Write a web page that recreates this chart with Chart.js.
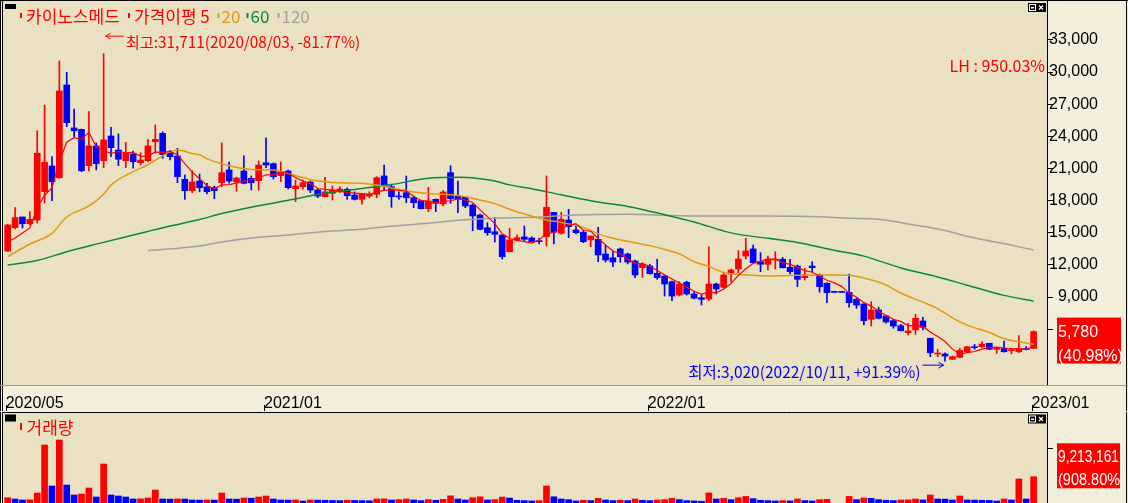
<!DOCTYPE html>
<html><head><meta charset="utf-8">
<script src="https://cdn.jsdelivr.net/npm/chart.js@4.4.1/dist/chart.umd.min.js"></script>
<style>
html,body{margin:0;padding:0;background:#F4EEDD;overflow:hidden;width:1128px;height:503px;}
#wrap{position:relative;width:1128px;height:503px;overflow:hidden;}
#price{position:absolute;left:0;top:0;}
#vol{position:absolute;left:0;top:412px;}
</style></head>
<body><div id="wrap"><canvas id="price" width="1128" height="411"></canvas><canvas id="vol" width="1128" height="94"></canvas></div>
<script>
// ---------- data (weekly candles, first week 2020/05/04) ----------
const tickIdx = [0, 35, 87, 139];
const tickLabels = ['2020/05', '2021/01', '2022/01', '2023/01'];
const priceTicks = [6000, 9000, 12000, 15000, 18000, 21000, 24000, 27000, 30000, 33000];
const volTicks = [18000000];

const open = [
13300,15480,16470,15850,16190,18830,21230,20140,28790,24780,
24650,21260,23100,21730,24030,22720,21730,22350,21540,21730,
23500,24280,22470,22160,19990,18930,19830,19300,19240,19670,
20860,19740,20760,20080,19860,21540,21450,20330,20760,19110,
19300,19740,18990,18370,18680,18830,19060,18520,18120,18430,
18590,20300,19300,18430,18740,18270,17990,17250,18120,17690,
20610,18430,18340,17590,16660,15470,15100,14790,13230,14300,
14610,14510,14260,14630,16910,14950,16190,15260,15050,14330,
14390,13020,12670,13490,13020,12370,11740,11900,11220,10970,
10440,9190,10380,9290,8940,8820,10220,9910,11150,11620,
12830,13490,12300,12060,12460,12530,11780,11900,10810,11900,
11060,10290,9450,9445,9450,8790,8360,6930,7800,7240,
6800,6330,5680,5930,6770,5160,3690,3690,3200,3380,
3900,4370,4370,4690,4130,4220,4000,3900,4160,4220];
const high = [
15800,17340,16470,16970,24520,26920,22100,31030,29970,26550,
24680,26300,23380,31711,24840,24220,23440,22630,22470,23720,
25060,24430,22660,22880,20390,20790,20480,19620,19360,23380,
21600,20200,22190,20300,21700,23870,21510,21600,20860,19920,
19920,19830,19080,20180,19360,19300,19180,18820,18620,18830,
20230,21320,19460,18830,20300,18430,18060,19240,18150,18930,
21260,19830,18340,17690,16750,15940,16440,14790,15420,14820,
15630,14630,14490,20300,16910,16910,17190,15630,15260,14700,
15510,13860,13300,13580,13110,12460,12210,12060,12530,10970,
10500,10440,10480,9500,9190,13700,10310,11280,11620,13330,
14490,13860,13140,12830,13230,12710,12530,11990,11690,12300,
11150,10320,9450,9450,11150,8880,8360,8570,8050,7240,
6860,6460,6560,7390,7110,5160,4130,3810,3500,4220,
4370,4590,4840,4690,4310,4900,4220,5400,4400,5850];
const low = [
13250,15350,15440,15730,15910,17780,17990,20080,24900,23960,
20700,20760,20860,21070,22100,21260,21070,21020,21320,21630,
22420,21950,21790,19670,18120,18740,18830,18620,18180,19300,
19620,18870,19550,18990,18990,21070,20020,19770,19080,17900,
19060,18740,18270,18340,18060,18740,18120,18060,17660,18270,
18270,18990,17380,18120,17810,17340,17220,16970,16970,17500,
17750,16870,17340,15190,15260,14770,14140,12550,13210,14230,
14170,14140,13950,13770,13950,14860,14540,14890,14070,13700,
12300,12270,11840,12250,12090,10810,10850,11130,10660,9100,
8660,9100,9190,8820,8260,8660,9290,9850,10440,11280,
12550,12180,11370,11530,11620,11710,11150,9970,10590,11370,
9460,8480,9440,9440,8050,7950,6400,6300,6960,6560,
6090,5840,5460,5530,5930,3440,3440,3020,3160,3340,
3880,4130,4310,4090,3750,3850,3690,3810,4070,4200];
const close = [
15730,16410,15850,16260,22420,21580,19770,28230,25270,24520,
20790,23100,21450,23660,22940,21860,22420,21630,21790,23100,
23720,22290,22100,20230,18930,19740,19210,18830,18930,20610,
19830,20110,19620,19670,21320,21320,20230,20700,19210,19360,
19670,18990,18430,18820,18990,19080,18460,18120,18620,18590,
20140,19300,18370,18340,18270,17810,17250,17970,17750,18800,
18180,18120,17500,16570,15330,15010,14860,12770,14330,14540,
14390,14170,14170,17380,15050,16260,15570,15010,14170,14700,
12930,12460,12270,12770,12270,11060,12090,11180,10810,10220,
9100,10220,9290,8890,8790,10220,9750,11060,11530,12550,
13300,12210,12060,12550,12530,11740,11370,10660,11060,11740,
9970,9410,9440,9440,8480,8260,6800,7800,7020,6680,
6300,5860,5840,7020,6180,3810,3780,3500,3440,4020,
4370,4280,4620,4130,4310,3900,4060,4220,4100,5780];
const volume = [
2610000,2200000,1890000,1950000,4090000,19180000,6290000,20750000,6600000,3460000,
3770000,5660000,2830000,13200000,3460000,3140000,2830000,2200000,2250000,2520000,
5030000,2200000,2150000,2220000,2180000,1890000,1850000,1900000,1860000,4090000,
2200000,2150000,2520000,2450000,2830000,3140000,2200000,1890000,1850000,1900000,
1570000,1890000,1850000,1800000,1750000,1700000,1800000,1750000,1700000,1650000,
2200000,2250000,1890000,2000000,2200000,1900000,1700000,2000000,1800000,2100000,
3200000,2200000,1900000,2600000,2900000,1900000,2000000,2800000,2500000,1800000,
1700000,1600000,1700000,6300000,2900000,2200000,2000000,1600000,1800000,1700000,
2400000,1900000,1700000,1800000,1700000,2200000,1800000,1700000,1900000,2000000,
2400000,2000000,1700000,1600000,1500000,4100000,2200000,2400000,2000000,2600000,
3000000,2300000,1800000,1700000,1600000,1700000,1600000,2200000,1700000,1600000,
2000000,2100000,50000,50000,3000000,2000000,2500000,2400000,2000000,1800000,
1700000,1900000,1950000,2200000,1900000,3460000,2200000,2150000,1890000,3140000,
1890000,1850000,1800000,1750000,1570000,2200000,1890000,8490000,2200000,9213161];

// moving averages (week index -> price)
const ma5Head = [14170, 14510, 14980, 15450];
const ma20Idx = [0,3,6,8,11,13,14,17,19,22,23,25,26,27,29,30,33,36,38,41,43,45,48,50,52,55,57,59,61,64,66,68,70,73,75,78,80,82,84,87,89,91,93,95,97,98,101,103,105,107,110,112,114,116,118,119,121,124,126,128,130,133,135,137,139];
const ma20Val = [12770,13950,14950,16470,17500,18600,19450,20700,21350,22550,22720,22400,22270,21900,21450,21250,20910,20850,20520,19980,19750,19670,19620,19460,19180,18800,18670,18590,18480,18060,17720,17200,16750,16200,15960,15500,14900,14480,14200,13800,13440,13030,12300,11850,11300,11180,11040,10970,11000,11030,11060,11060,11035,10790,10400,10130,9380,8530,7920,7060,6380,5700,5120,4840,4600];
const ma60Idx = [0,4,8,12,17,22,26,29,34,38,43,47,52,57,61,64,66,68,71,75,80,84,89,93,98,103,107,112,116,121,126,130,135,139];
const ma60Val = [11990,12420,13230,13940,14790,15630,16240,16790,17520,18030,18710,19030,19500,20090,20180,20050,19840,19470,19110,18550,17870,17460,16690,16010,14990,14480,14100,13370,12820,11720,10880,10110,9160,8620];
const ma120Idx = [19,26,29,34,38,43,48,52,57,61,66,71,77,84,93,103,110,114,118,122,127,130,135,139];
const ma120Val = [13330,13760,14150,14590,14790,15120,15330,15620,15890,16170,16350,16440,16660,16720,16570,16565,16490,16350,16270,15820,15220,14680,13990,13390];

const stockName = '카이노스메드';
const legendTexts = ['가격이평 5', '20', '60', '120'];
const maxIdx = 13, maxVal = 31711, maxDate = '2020/08/03', maxPct = '-81.77%';
const minIdx = 127, minVal = 3020, minDate = '2022/10/11', minPct = '+91.39%';
const lhText = 'LH : 950.03%';
const lastPct = '40.98%';
const lastVolPct = '908.80%';
const volTitle = '거래량';

// ---------- styles ----------
const RED = '#FF0000', BLUE = '#0000FF', ORANGE = '#E39A0C', GREEN = '#0B8A3A', GRAY = '#A0A0A0';
const CREAM = '#F4EEDD', PLOT_BG = '#E9E1C1';
const KF = s => `${s}px 'Noto Sans CJK KR', sans-serif`;
const LF = s => `${s}px 'Liberation Sans', Arial, sans-serif`;
const fmt = v => v.toLocaleString('en-US');

const N = close.length;
const idx = close.map((_, i) => i);
const candleColors = idx.map(i => close[i] >= open[i] ? RED : BLUE);
const volColors = volume.map((v, i) => (i === 0 || v >= volume[i - 1]) ? RED : BLUE);
const ma5 = idx.map(i => i < 4 ? ma5Head[i] : (close[i] + close[i-1] + close[i-2] + close[i-3] + close[i-4]) / 5);
const pts = (ix, vals) => ix.map((x, k) => ({x, y: vals[k]}));

function line(c, x1, y1, x2, y2, color, w) {
  c.strokeStyle = color; c.lineWidth = w || 1;
  c.beginPath(); c.moveTo(x1, y1); c.lineTo(x2, y2); c.stroke();
}
function arrow(c, xFrom, xTip, y, color) {
  const d = xTip < xFrom ? 1 : -1;
  line(c, xFrom, y, xTip, y, color);
  c.beginPath(); c.moveTo(xTip + d * 5, y - 3); c.lineTo(xTip, y); c.lineTo(xTip + d * 5, y + 3); c.stroke();
}
function icons(c, right, y) {
  c.fillStyle = '#000'; c.fillRect(right - 20, y, 9, 9);
  c.fillStyle = '#fff'; c.fillRect(right - 19, y + 1, 7, 7);
  c.fillStyle = '#000'; c.fillRect(right - 18, y + 2, 5, 5);
  c.fillStyle = '#fff'; c.fillRect(right - 17, y + 4, 3, 1.5);
  c.fillStyle = '#000'; c.fillRect(right - 11, y, 9, 9);
  c.strokeStyle = '#fff'; c.lineWidth = 1.3; c.beginPath();
  c.moveTo(right - 9, y + 2.5); c.lineTo(right - 5, y + 6.5);
  c.moveTo(right - 5, y + 2.5); c.lineTo(right - 9, y + 6.5); c.stroke();
}
function frameSides(c, a, width, height, bottom) {
  line(c, 0.5, 0, 0.5, height, '#000');
  line(c, a.left - 1.5, 0, a.left - 1.5, height, '#000');
  line(c, a.right - 0.5, 0, a.right - 0.5, bottom, '#000');
  line(c, width - 1.5, 0, width - 1.5, height, '#000');
}

const pricePanel = {
  id: 'pricePanel',
  beforeDraw(chart) {
    const {ctx: c, chartArea: a, width, height} = chart;
    c.save();
    c.fillStyle = CREAM; c.fillRect(0, 0, width, height);
    c.fillStyle = PLOT_BG; c.fillRect(a.left - 1, 0, a.right - a.left + 1, a.bottom + 1);
    c.restore();
  },
  afterDraw(chart) {
    const {ctx: c, chartArea: a, width, height} = chart;
    const x = chart.scales.x, y = chart.scales.y;
    c.save();
    line(c, 0, 0.5, width, 0.5, '#000');
    frameSides(c, a, width, height, a.bottom);
    line(c, 0, a.bottom + 0.5, width, a.bottom + 0.5, '#9A9A9A');
    x.ticks.forEach(t => {
      const px = Math.round(x.getPixelForValue(t.value)) + 0.5;
      line(c, px, height - 6, px, height, '#000');
    });
    // panel marks
    c.fillStyle = '#000'; c.fillRect(5, 4, 11, 5);
    icons(c, a.right, 3);
    // legend
    c.textBaseline = 'middle'; c.textAlign = 'left';
    c.font = KF(17);
    const items = [[stockName, RED, 20, 26], [legendTexts[0], RED, 128, 134], [legendTexts[1], ORANGE, 217.5, 221.5], [legendTexts[2], GREEN, 246.5, 250.5], [legendTexts[3], GRAY, 277.5, 281.5]];
    items.forEach(([t, col, mx, tx]) => {
      c.fillStyle = col; c.fillRect(mx, 13, 2, 5);
      c.fillText(t, tx, 16.5);
    });
    // max annotation
    const mx = x.getPixelForValue(maxIdx) + 2, my = y.getPixelForValue(maxVal) - 17.5;
    arrow(c, mx + 18, mx, my, RED);
    c.fillStyle = RED; c.font = KF(15.3); c.textAlign = 'left';
    c.fillText(`최고:${fmt(maxVal)}(${maxDate}, ${maxPct})`, mx + 20, my + 6.5);
    // min annotation
    const nx = x.getPixelForValue(minIdx) - 1.5, ny = y.getPixelForValue(minVal) + 4;
    arrow(c, nx - 21, nx, ny, BLUE);
    c.fillStyle = BLUE; c.textAlign = 'right'; c.font = KF(15.5);
    c.fillText(`최저:${fmt(minVal)}(${minDate}, ${minPct})`, nx - 23, ny + 6.5);
    // LH
    c.fillStyle = RED; c.font = KF(16); c.textAlign = 'right';
    c.fillText(lhText, a.right - 3, 65.5);
    // last price box
    const last = close[N - 1];
    const py = y.getPixelForValue(last);
    c.fillStyle = RED; c.fillRect(a.right + 9, py - 14, 64, 46);
    c.fillStyle = '#fff'; c.font = LF(16); c.textAlign = 'left';
    c.fillText(fmt(last), a.right + 10, py + 0.75);
    c.fillText(`(${lastPct})`, a.right + 10, py + 24.6);
    c.restore();
  }
};

const volPanel = {
  id: 'volPanel',
  beforeDraw(chart) {
    const {ctx: c, chartArea: a, width, height} = chart;
    c.save();
    c.fillStyle = CREAM; c.fillRect(0, 0, width, height);
    c.fillStyle = PLOT_BG; c.fillRect(a.left - 1, 0, a.right - a.left + 1, height);
    c.restore();
  },
  afterDraw(chart) {
    const {ctx: c, chartArea: a, width, height} = chart;
    c.save();
    line(c, a.left - 2, 0.5, a.right, 0.5, '#000');
    frameSides(c, a, width, height, height);
    c.fillStyle = '#000'; c.fillRect(5, 2.5, 11, 7);
    icons(c, a.right, 2.5);
    c.fillStyle = RED; c.fillRect(20, 11, 2, 7);
    c.font = KF(17); c.textBaseline = 'middle'; c.textAlign = 'left';
    c.fillText(volTitle, 26.5, 15.5);
    // last volume box
    const bx = a.right + 9, by = a.top + 30.3, bw = 63, bh = 45;
    c.fillStyle = RED; c.fillRect(bx, by, bw, bh);
    c.beginPath(); c.rect(bx, by, bw, bh); c.clip();
    c.fillStyle = '#fff'; c.font = LF(16);
    c.fillText(fmt(volume[N - 1]), bx + 1, by + 14.4, 61);
    c.fillText(`(${lastVolPct})`, bx + 1, by + 37, 67);
    c.restore();
  }
};

const xRange = {type: 'linear', min: -0.5, max: 140.95, offset: false};

new Chart(document.getElementById('price'), {
  type: 'bar',
  data: {
    datasets: [
      {type: 'line', label: 'MA5', data: idx.map(i => ({x: i, y: ma5[i]})), borderColor: RED, borderWidth: 1.2, pointRadius: 0, order: 1},
      {type: 'line', label: 'MA20', data: pts(ma20Idx, ma20Val), borderColor: ORANGE, borderWidth: 1.5, pointRadius: 0, cubicInterpolationMode: 'monotone', order: 1},
      {type: 'line', label: 'MA60', data: pts(ma60Idx, ma60Val), borderColor: GREEN, borderWidth: 1.5, pointRadius: 0, cubicInterpolationMode: 'monotone', order: 1},
      {type: 'line', label: 'MA120', data: pts(ma120Idx, ma120Val), borderColor: GRAY, borderWidth: 1.5, pointRadius: 0, cubicInterpolationMode: 'monotone', order: 1},
      {label: 'body', data: idx.map(i => ({x: i, y: [open[i], close[i]]})), backgroundColor: candleColors, barThickness: 6, minBarLength: 1, grouped: false, borderWidth: 0, order: 2},
      {label: 'wick', data: idx.map(i => ({x: i, y: [low[i], high[i]]})), backgroundColor: candleColors, barThickness: 1, grouped: false, borderWidth: 0, order: 3}
    ]
  },
  options: {
    responsive: false, animation: false, devicePixelRatio: 1, events: [],
    layout: {padding: {left: 4, top: 1, right: 30, bottom: 0}},
    plugins: {legend: {display: false}, tooltip: {enabled: false}},
    scales: {
      x: Object.assign({}, xRange, {
        grid: {display: true, drawOnChartArea: false, drawTicks: true, tickLength: 9, color: 'rgba(0,0,0,0)', tickColor: 'rgba(0,0,0,0)'}, border: {display: false},
        afterBuildTicks: s => { s.ticks = tickIdx.map(v => ({value: v - 0.27})); },
        afterFit: s => { s.height = 26; },
        ticks: {autoSkip: false, maxRotation: 0, minRotation: 0, align: 'start', padding: 0, color: '#000', font: {family: "'Liberation Sans', Arial, sans-serif", size: 16}, callback: (v, k) => tickLabels[k]}
      }),
      y: {
        position: 'right', min: 797.5, max: 36624.7, bounds: 'data',
        afterBuildTicks: s => { s.ticks = priceTicks.map(v => ({value: v})); },
        afterFit: s => { s.width = 50; },
        grid: {drawOnChartArea: false, drawTicks: true, tickLength: 5, color: '#000', tickColor: '#000'}, border: {display: false},
        ticks: {crossAlign: 'far', padding: -23, color: '#000', font: {family: "'Liberation Sans', Arial, sans-serif", size: 16}, callback: v => fmt(v)}
      }
    }
  },
  plugins: [pricePanel]
});

new Chart(document.getElementById('vol'), {
  type: 'bar',
  data: {datasets: [{label: 'volume', data: idx.map(i => ({x: i, y: volume[i]})), backgroundColor: volColors, barThickness: 6, borderWidth: 0}]},
  options: {
    responsive: false, animation: false, devicePixelRatio: 1, events: [],
    layout: {padding: {left: 4, top: 1, right: 30, bottom: 0}},
    plugins: {legend: {display: false}, tooltip: {enabled: false}},
    scales: {
      x: Object.assign({}, xRange, {display: false}),
      y: {
        position: 'right', min: 0, max: 29240000, bounds: 'data',
        afterBuildTicks: s => { s.ticks = volTicks.map(v => ({value: v})); },
        afterFit: s => { s.width = 50; },
        grid: {drawOnChartArea: false, drawTicks: true, tickLength: 5, color: '#000'}, border: {display: false},
        ticks: {padding: -23, callback: () => ''}
      }
    }
  },
  plugins: [volPanel]
});
</script>
</body></html>
